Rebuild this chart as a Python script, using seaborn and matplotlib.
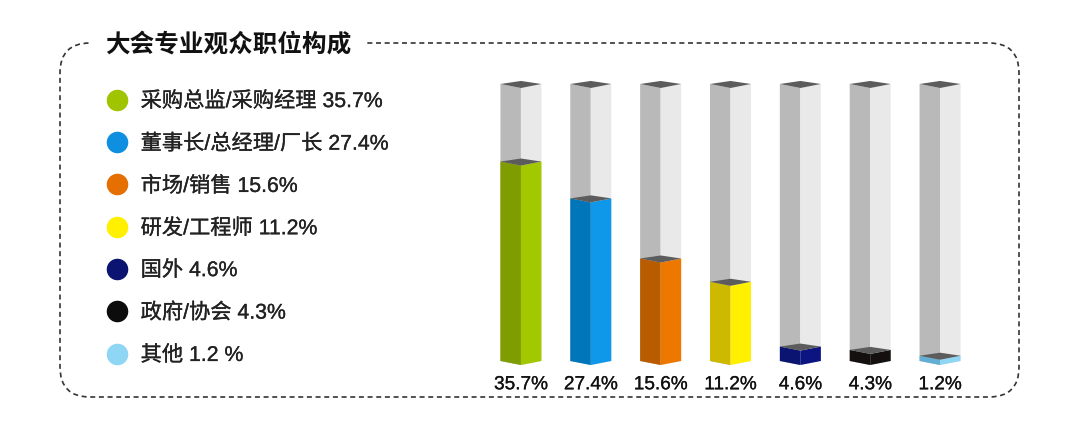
"""Stacked-looking 3D columns: audience job roles at the trade fair."""

import matplotlib
matplotlib.use("Agg")
import matplotlib.patheffects as pe
import matplotlib.pyplot as plt
import pandas as pd
import seaborn as sns
from matplotlib.font_manager import FontProperties
from matplotlib.lines import Line2D
from matplotlib.patches import FancyBboxPatch
from matplotlib.transforms import Affine2D

title = "大会专业观众职位构成"
legend_labels = ["采购总监/采购经理 35.7%", "董事长/总经理/厂长 27.4%", "市场/销售 15.6%",
                 "研发/工程师 11.2%", "国外 4.6%", "政府/协会 4.3%", "其他 1.2 %"]
bar_labels = ["35.7%", "27.4%", "15.6%", "11.2%", "4.6%", "4.3%", "1.2%"]
# drawn height as % of the grey column
# (the source columns are not strictly proportional to their labels)
fill_levels = [72.0, 58.7, 37.0, 28.6, 5.2, 4.0, 1.9]
track_levels = [100, 100, 100, 100, 100, 100, 100]

left_colors = ["#7f9c00", "#0076ba", "#b95c00", "#cdb900", "#0b1470", "#141010", "#62aed4"]
right_colors = ["#a2c800", "#0f98ea", "#ee7700", "#fff000", "#0b1480", "#141010", "#8fd6f4"]
legend_colors = ["#a0c400", "#0f8fe0", "#e56f00", "#fff000", "#0b1470", "#0c0c0c", "#8fd6f4"]

W, H = 1080, 437
DROP = 1.45      # how far the front corner sits below the side corners, in y units
RISE = 1.1
SLOPE = DROP / 0.2935

sns.set_theme(style="white")
plt.rcParams["font.family"] = ["Noto Sans CJK SC", "DejaVu Sans"]

fig = plt.figure(figsize=(W / 100, H / 100), dpi=100, facecolor="white")
thicker = [pe.withStroke(linewidth=0.2, foreground="#222222")]

# ── Frame, title, legend (pixel coordinates) ──────────────────────────────────
bg = fig.add_axes([0, 0, 1, 1])
bg.set_xlim(0, W)
bg.set_ylim(H, 0)
bg.axis("off")
bg.add_patch(FancyBboxPatch((60, 43), 959, 354,
                            boxstyle="round,pad=0,rounding_size=30",
                            fill=False, edgecolor="#333333", linewidth=1.2,
                            linestyle=(0, (3, 2.2))))
bg.text(105, 45, title, fontsize=17.7, fontweight="bold", color="#111111",
        ha="left", va="center",
        bbox=dict(facecolor="white", edgecolor="none", pad=11))

handles = [Line2D([], [], linestyle="none", marker="o", markersize=14.5,
                  markerfacecolor=c, markeredgecolor=c) for c in legend_colors]
legend_font = FontProperties(family=["Liberation Sans", "Noto Sans CJK SC"],
                             weight="medium", size=15.3)
leg = bg.legend(handles, legend_labels, loc="upper left",
                bbox_to_anchor=(96 / W, 1 - 91 / H), frameon=False,
                prop=legend_font, labelspacing=1.05, handletextpad=0.1,
                borderpad=0, borderaxespad=0, labelcolor="#222222")
for t in leg.get_texts():
    t.set_path_effects(thicker)

# ── Columns ───────────────────────────────────────────────────────────────────
ax = fig.add_axes([486 / W, 1 - 361 / H, 489 / W, 277 / H])
ax.patch.set_alpha(0)


def draw_bars(levels):
    """Two touching seaborn bars per category: left and right face."""
    df = pd.DataFrame({"label": bar_labels * 2,
                       "level": list(levels) * 2,
                       "side": ["left"] * 7 + ["right"] * 7})
    n = len(ax.containers)
    sns.barplot(data=df, x="label", y="level", hue="side", order=bar_labels,
                hue_order=["left", "right"], width=0.587, gap=0, dodge=True,
                legend=False, errorbar=None, ax=ax)
    return ax.containers[n], ax.containers[n + 1]


def shape_faces(lefts, rights, lcols, rcols):
    """Shear the flat bars into box faces and put a dark cap on top."""
    for bl, br, lc, rc in zip(lefts, rights, lcols, rcols):
        x0, xm = bl.get_x(), br.get_x()
        x1 = xm + br.get_width()
        top = bl.get_height()
        bl.set_facecolor(lc)
        bl.set_edgecolor("none")
        br.set_facecolor(rc)
        br.set_edgecolor("none")
        bl.set_transform(Affine2D.from_values(1, -SLOPE, 0, 1, 0, SLOPE * x0) + ax.transData)
        br.set_transform(Affine2D.from_values(1, SLOPE, 0, 1, 0, -DROP - SLOPE * xm) + ax.transData)
        ax.fill([x0, xm, x1, xm], [top, top + RISE, top, top - DROP],
                facecolor="#5c5c5c", edgecolor="none", zorder=5, clip_on=False)


shape_faces(*draw_bars(track_levels), ["#b9b9b9"] * 7, ["#e9e9e9"] * 7)
shape_faces(*draw_bars(fill_levels), left_colors, right_colors)
for p in ax.patches:
    p.set_clip_on(False)

ax.set_xlim(-0.5, 6.5)
ax.set_ylim(0, 100)
ax.set_xlabel("")
ax.set_ylabel("")
ax.set_yticks([])
ax.tick_params(axis="x", length=0, pad=11)
for lbl in ax.get_xticklabels():
    lbl.set_fontfamily("Liberation Sans")
    lbl.set_fontsize(13.7)
    lbl.set_color("#111111")
    lbl.set_path_effects(thicker)
sns.despine(ax=ax, left=True, bottom=True)

fig.savefig("out.png", dpi=100)
plt.close(fig)
